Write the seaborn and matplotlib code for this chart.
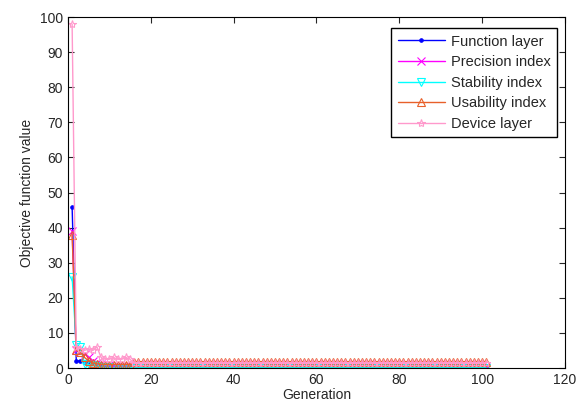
import matplotlib.pyplot as plt
import pandas as pd
import seaborn as sns

sns.set_style('white')
plt.rcParams['font.family'] = ['Liberation Sans', 'DejaVu Sans']
plt.rcParams['xtick.direction'] = 'in'
plt.rcParams['ytick.direction'] = 'in'

generation = list(range(1, 102))

function_layer = [46, 2.0, 2.0, 1.8, 1.8, 1.6, 1.5, 1.0, 0.8, 0.6] + [0.3] * 91
precision_index = [39, 5.0, 4.5, 4.0, 3.0, 2.0, 1.5, 1.2, 1.0, 0.8] + [0.5] * 91
stability_index = [26, 6.5, 6.0, 1.2, 1.0, 0.8, 0.5, 0.3, 0.2, 0.2] + [0.1] * 91
usability_index = [38, 5.0, 4.5, 3.0, 2.0, 1.5, 1.2, 1.0, 1.0, 1.0,
                   1.0, 1.0, 1.0, 1.0, 1.0] + [1.8] * 86
device_layer = [98, 6.0, 5.5, 5.0, 5.5, 5.0, 6.0, 3.0, 2.5, 2.5,
                3.0, 2.5, 2.5, 3.0, 2.5] + [1.3] * 86

series = {
    'Function layer': function_layer,
    'Precision index': precision_index,
    'Stability index': stability_index,
    'Usability index': usability_index,
    'Device layer': device_layer,
}
colors = ['#0000ff', '#ff00ff', '#00ffff', '#e8602a', '#ff99cc']
markers = ['.', 'x', 'v', '^', '*']
fills = [True, False, False, False, False]

df = pd.DataFrame({'Generation': generation, **series})
long_df = df.melt(id_vars='Generation', var_name='Series', value_name='Value')

fig, ax = plt.subplots(figsize=(5.86, 4.08), dpi=100)
fig.subplots_adjust(left=0.116, right=0.964, top=0.958, bottom=0.098)

for (name, values), c, m, f in zip(series.items(), colors, markers, fills):
    sub = long_df[long_df['Series'] == name]
    sns.lineplot(
        data=sub, x='Generation', y='Value', ax=ax, color=c, lw=1,
        marker=m, markersize=6 if m != '.' else 5,
        markerfacecolor=c if f else 'none', markeredgecolor=c,
        markeredgewidth=0.8, label=name,
    )

ax.set_xlim(0, 120)
ax.set_ylim(0, 100)
ax.set_xticks(range(0, 121, 20))
ax.set_yticks(range(0, 101, 10))
ax.set_xlabel('Generation', fontsize=10, labelpad=1)
ax.set_ylabel('Objective function value', fontsize=10)
ax.tick_params(labelsize=10, length=4, width=0.8, top=True, right=True,
               bottom=True, left=True)
for s in ax.spines.values():
    s.set_color('black')
    s.set_linewidth(0.8)

ax.legend(loc='upper right', bbox_to_anchor=(0.984, 0.969), borderaxespad=0,
          fontsize=10.5, frameon=True, fancybox=False, edgecolor='black',
          framealpha=1, handlelength=3.2, labelspacing=0.45,
          borderpad=0.45, handletextpad=0.4)

fig.savefig('out.png')
